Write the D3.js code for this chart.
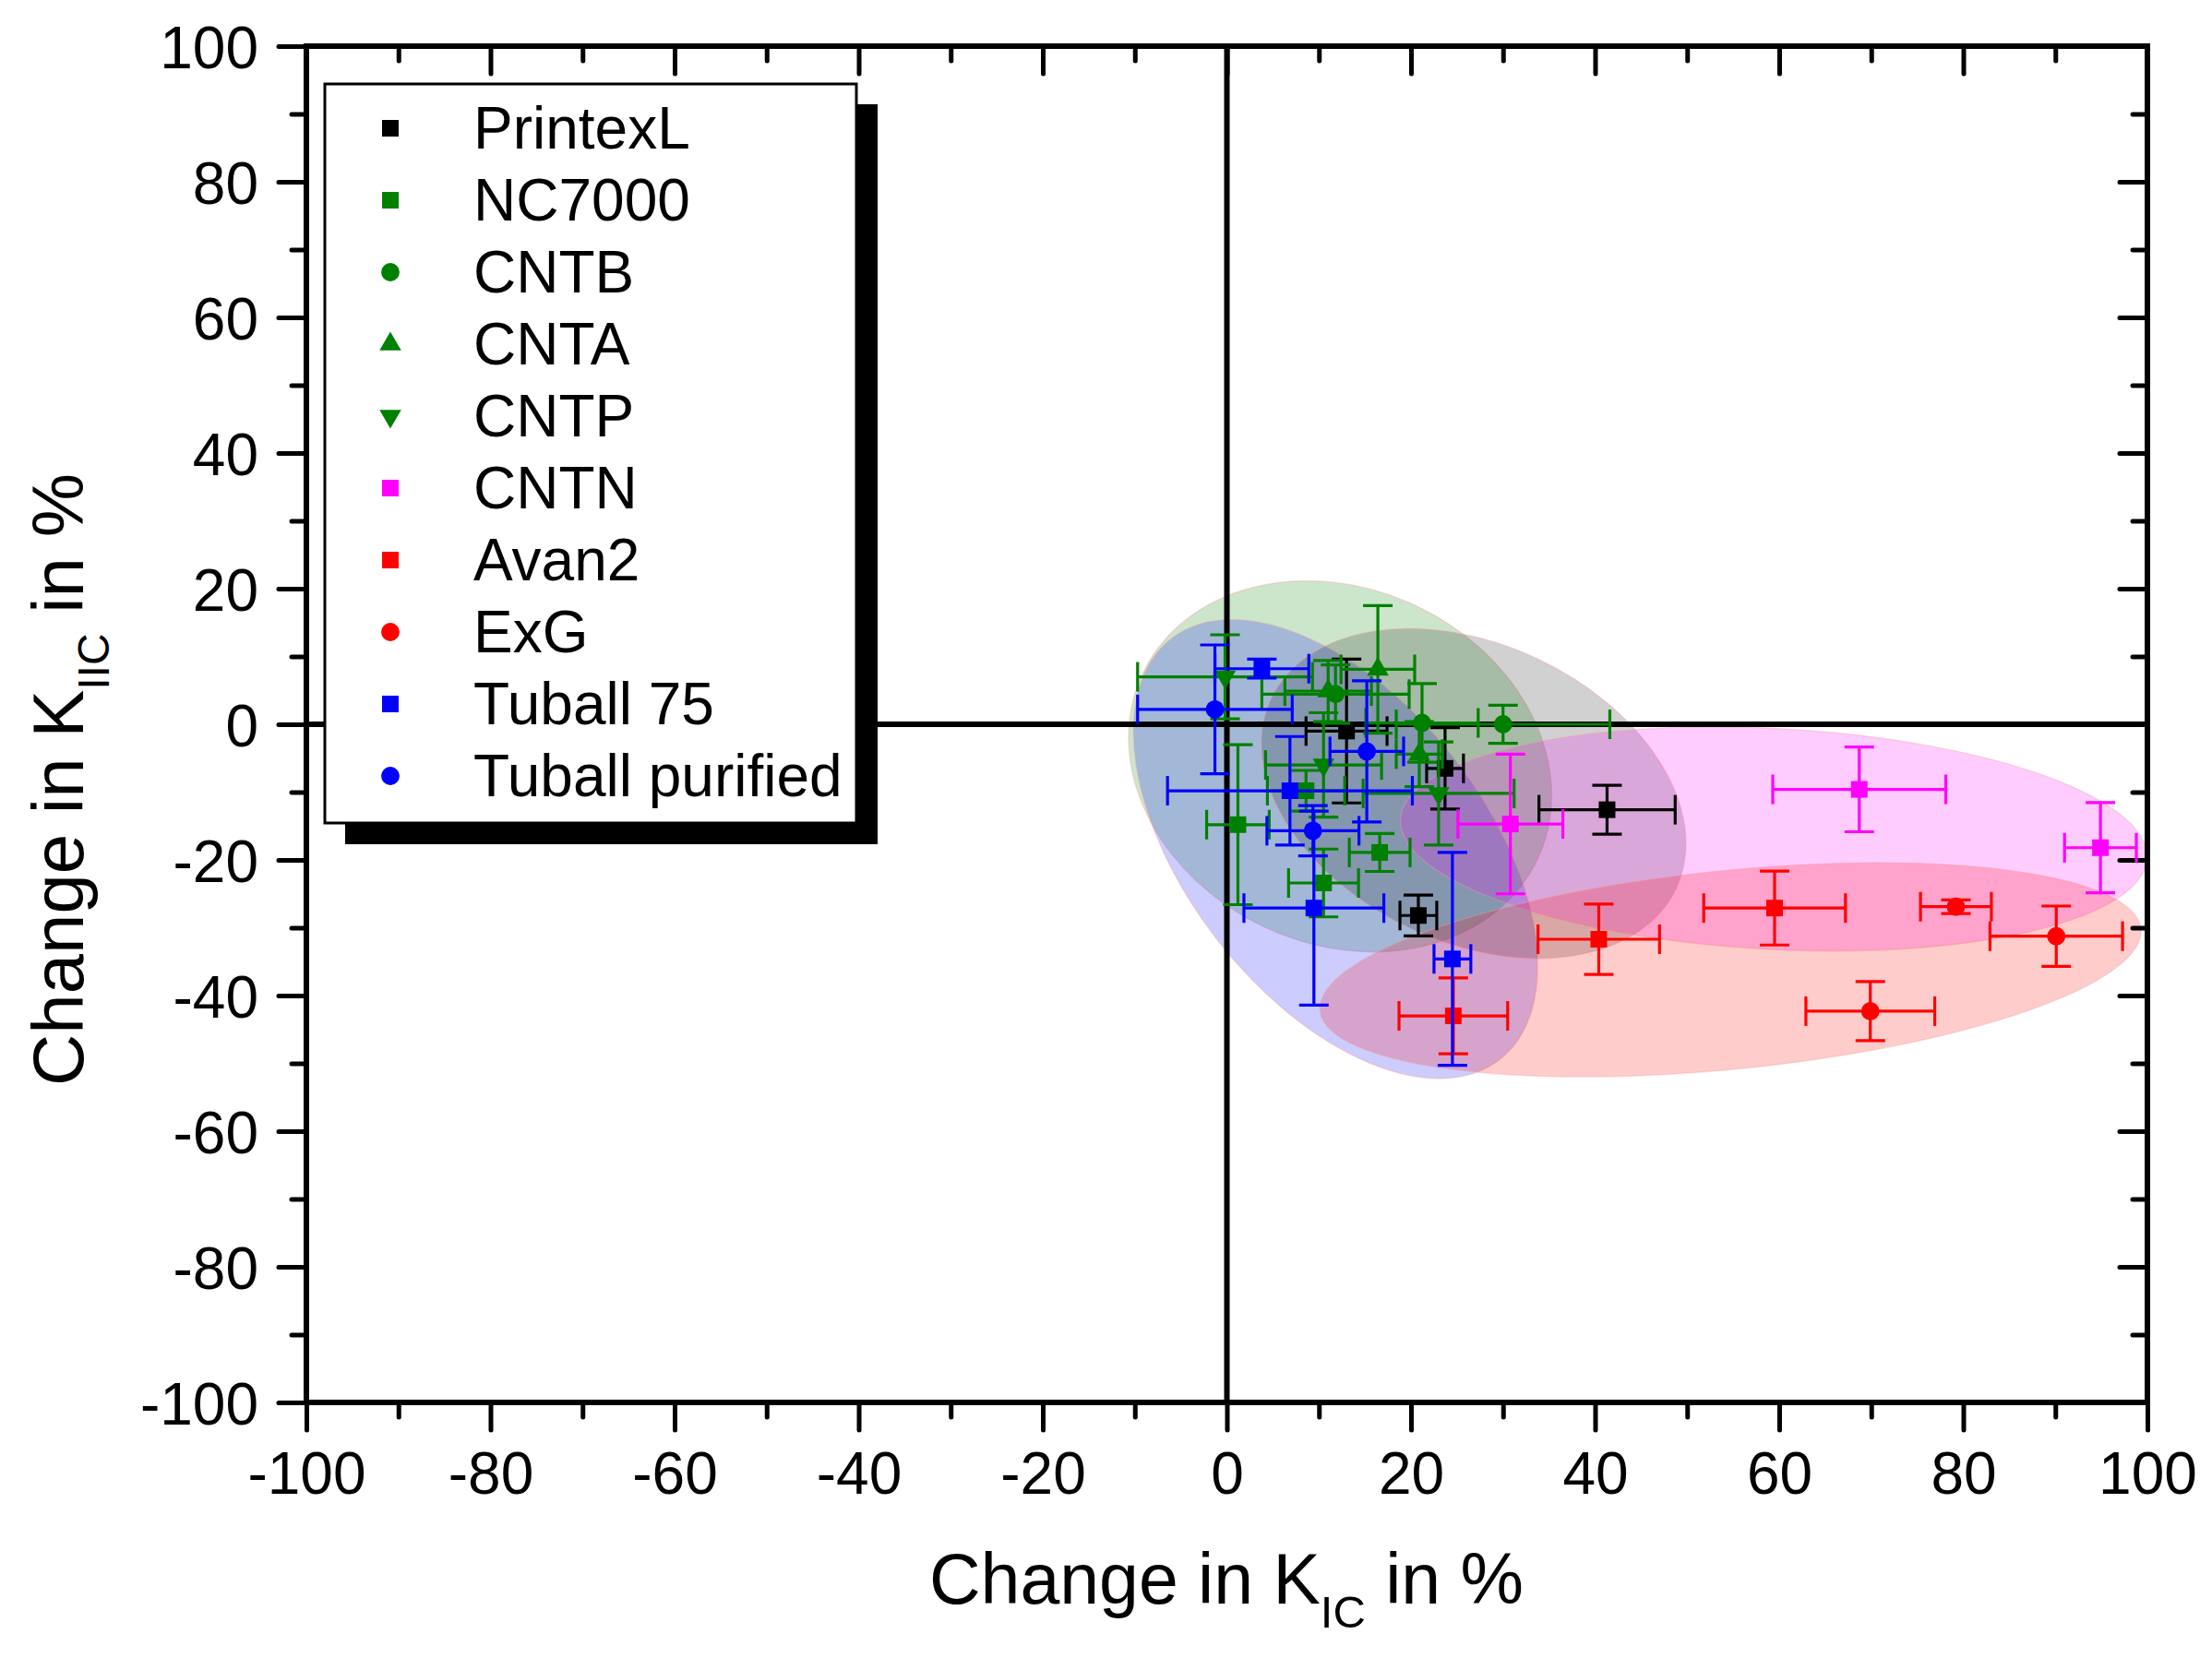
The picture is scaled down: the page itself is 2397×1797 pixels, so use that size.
<!DOCTYPE html>
<html>
<head>
<meta charset="utf-8">
<script src="https://cdn.jsdelivr.net/npm/d3@7"></script>
<style>
  body { margin: 0; background: #fff; }
  text { font-family: "Liberation Sans", Arial, sans-serif; fill: #000; }
</style>
</head>
<body>
<div id="chart"></div>
<script>
// --- data: [x change KIC %, y change KIIC %, x error, y error] ---
const printexL = [[13.0, -1.0, 4.4, 10.6], [23.7, -6.5, 2.0, 6.0], [20.8, -28.2, 2.0, 3.0], [41.3, -12.6, 7.4, 3.6]];
const nc7000 = [[1.2, -14.8, 3.4, 11.8], [8.6, -9.8, 4.2, 3.0], [10.5, -23.4, 3.8, 5.0], [16.6, -18.9, 3.3, 2.8]];
const cntb = [[11.8, 4.45, 8.0, 4.3], [21.2, 0.2, 6.1, 5.8], [30.0, 0.0, 11.6, 2.8]];
const cnta = [[11.0, 4.9, 4.7, 4.5], [16.4, 8.1, 4.0, 9.4], [20.9, -4.4, 2.5, 4.8]];
const cntp = [[-0.2, 7.0, 9.5, 6.2], [10.5, -6.0, 6.3, 7.7], [23.0, -10.2, 8.2, 7.6]];
const cntn = [[30.8, -14.7, 5.7, 10.3], [68.7, -9.6, 9.4, 6.25], [94.9, -18.2, 3.9, 6.65]];
const avan2 = [[24.6, -43.0, 5.9, 5.6], [40.4, -31.7, 6.6, 5.2], [59.5, -27.1, 7.7, 5.45]];
const exg = [[69.9, -42.3, 7.0, 4.35], [79.2, -26.9, 3.85, 1.0], [90.1, -31.25, 7.2, 4.45]];
const tuball75 = [[3.8, 8.2, 5.1, 1.4], [6.85, -9.8, 13.3, 8.0], [9.45, -27.1, 7.6, 14.3], [24.5, -34.6, 2.0, 15.7]];
const tuballPurified = [[-1.3, 2.2, 8.4, 9.5], [15.2, -4.0, 4.0, 10.4], [9.35, -15.7, 5.0, 3.7]];

const seriesNames = ["PrintexL", "NC7000", "CNTB", "CNTA", "CNTP", "CNTN", "Avan2", "ExG", "Tuball 75", "Tuball purified"];
const seriesData = [printexL, nc7000, cntb, cnta, cntp, cntn, avan2, exg, tuball75, tuballPurified];
const seriesColors = ["#000000", "#008000", "#008000", "#008000", "#008000", "#ff00ff", "#ff0000", "#ff0000", "#0000ff", "#0000ff"];
const seriesShapes = ["square", "square", "circle", "up", "down", "square", "square", "circle", "square", "circle"];

// shaded group ellipses: centre (data units), semi-axes (x-axis units), tilt in degrees
const ellipseCx = [12.3, 11.8, 26.8, 59.4, 54.7];
const ellipseCy = [-6.2, -18.4, -10.2, -16.9, -36.2];
const ellipseA = [23.7, 29.0, 24.3, 40.6, 44.8];
const ellipseB = [19.3, 16.2, 16.2, 12.0, 10.8];
const ellipseAngle = [25, 52, 25, 3, -5.7];
const ellipseColors = ["#008000", "#0000ff", "#000000", "#ff00ff", "#ff0000"];

const majorTicks = [-100, -80, -60, -40, -20, 0, 20, 40, 60, 80, 100];
const minorTicks = [-90, -70, -50, -30, -10, 10, 30, 50, 70, 90];

const W = 2397, H = 1797;
const svg = d3.select("#chart").append("svg").attr("width", W).attr("height", H);

const x = d3.scaleLinear().domain([-100, 100]).range([332, 2327]);
const y = d3.scaleLinear().domain([-100, 100]).range([1520, 50]);
const kx = x(1) - x(0);

// === ellipses ===
svg.append("g").selectAll("ellipse")
  .data(ellipseCx)
  .join("ellipse")
  .attr("cx", 0).attr("cy", 0)
  .attr("rx", (d, i) => ellipseA[i] * kx)
  .attr("ry", (d, i) => ellipseB[i] * kx)
  .attr("transform", (d, i) => `translate(${x(d)},${y(ellipseCy[i])}) rotate(${ellipseAngle[i]})`)
  .attr("fill", (d, i) => ellipseColors[i])
  .attr("fill-opacity", (d, i) => i === 2 ? 0.18 : 0.2)
  .attr("stroke", "#f0a0a0")
  .attr("stroke-opacity", 0.35)
  .attr("stroke-width", 1.5);

// === zero lines ===
svg.append("line").attr("x1", x(0)).attr("x2", x(0)).attr("y1", y(100)).attr("y2", y(-100))
  .attr("stroke", "#000").attr("stroke-width", 6);
svg.append("line").attr("x1", x(-100)).attr("x2", x(100)).attr("y1", y(0)).attr("y2", y(0))
  .attr("stroke", "#000").attr("stroke-width", 6);

// === axes ===
function styleAxis(g) {
  g.select(".domain").remove();
  g.selectAll("line").attr("stroke", "#000").attr("stroke-width", 5).attr("stroke-linecap", "round");
  g.selectAll("text").attr("font-size", 64).attr("font-family", "Liberation Sans, Arial, sans-serif");
}
const fmt = d => d;
svg.append("g").attr("transform", `translate(0,${y(-100)})`)
  .call(d3.axisBottom(x).tickValues(majorTicks).tickSize(30).tickPadding(24).tickFormat(fmt)).call(styleAxis);
svg.append("g").attr("transform", `translate(0,${y(-100)})`)
  .call(d3.axisBottom(x).tickValues(minorTicks).tickSize(16).tickFormat("")).call(styleAxis);
svg.append("g").attr("transform", `translate(${x(-100)},0)`)
  .call(d3.axisLeft(y).tickValues(majorTicks).tickSize(30).tickPadding(22).tickFormat(fmt)).call(styleAxis)
  .selectAll("text").attr("dy", "0.36em");
svg.append("g").attr("transform", `translate(${x(-100)},0)`)
  .call(d3.axisLeft(y).tickValues(minorTicks).tickSize(16).tickFormat("")).call(styleAxis);
svg.append("g").attr("transform", `translate(0,${y(100)})`)
  .call(d3.axisTop(x).tickValues(majorTicks).tickSize(-30).tickFormat("")).call(styleAxis);
svg.append("g").attr("transform", `translate(0,${y(100)})`)
  .call(d3.axisTop(x).tickValues(minorTicks).tickSize(-16).tickFormat("")).call(styleAxis);
svg.append("g").attr("transform", `translate(${x(100)},0)`)
  .call(d3.axisRight(y).tickValues(majorTicks).tickSize(-30).tickFormat("")).call(styleAxis);
svg.append("g").attr("transform", `translate(${x(100)},0)`)
  .call(d3.axisRight(y).tickValues(minorTicks).tickSize(-16).tickFormat("")).call(styleAxis);

svg.append("rect")
  .attr("x", x(-100)).attr("y", y(100))
  .attr("width", x(100) - x(-100)).attr("height", y(-100) - y(100))
  .attr("fill", "none").attr("stroke", "#000").attr("stroke-width", 6);

// === axis titles ===
const xt = svg.append("text").attr("x", 1329).attr("y", 1738).attr("text-anchor", "middle").attr("font-size", 77);
xt.append("tspan").text("Change in K");
xt.append("tspan").attr("font-size", 49).attr("dy", 26).text("IC");
xt.append("tspan").attr("dy", -26).text(" in %");

const yt = svg.append("text").attr("transform", "translate(90,845) rotate(-90)").attr("text-anchor", "middle").attr("font-size", 78);
yt.append("tspan").text("Change in K");
yt.append("tspan").attr("font-size", 48).attr("dy", 28).text("IIC");
yt.append("tspan").attr("dy", -28).text(" in %");

// === markers ===
function symbolPath(shape) {
  if (shape === "square") return d3.symbol(d3.symbolSquare, 324)();
  if (shape === "circle") return d3.symbol(d3.symbolCircle, 310)();
  return d3.symbol(d3.symbolTriangle, 240)();
}
const capW = 16;

seriesData.forEach((pts, si) => {
  const col = seriesColors[si];
  const g = svg.append("g");
  const eb = g.append("g").attr("stroke", col).attr("stroke-width", 3.2);
  pts.forEach(p => {
    const [vx, vy, ex, ey] = p;
    const cx = x(vx), cy = y(vy);
    const x1 = x(vx - ex), x2 = x(vx + ex), y1 = y(vy + ey), y2 = y(vy - ey);
    eb.append("line").attr("x1", x1).attr("x2", x2).attr("y1", cy).attr("y2", cy);
    eb.append("line").attr("x1", cx).attr("x2", cx).attr("y1", y1).attr("y2", y2);
    eb.append("line").attr("x1", x1).attr("x2", x1).attr("y1", cy - capW).attr("y2", cy + capW);
    eb.append("line").attr("x1", x2).attr("x2", x2).attr("y1", cy - capW).attr("y2", cy + capW);
    eb.append("line").attr("x1", cx - capW).attr("x2", cx + capW).attr("y1", y1).attr("y2", y1);
    eb.append("line").attr("x1", cx - capW).attr("x2", cx + capW).attr("y1", y2).attr("y2", y2);
  });
  g.selectAll("path.mk").data(pts).join("path").attr("class", "mk")
    .attr("d", symbolPath(seriesShapes[si]))
    .attr("transform", d => `translate(${x(d[0])},${y(d[1])})${seriesShapes[si] === "down" ? " rotate(180)" : ""}`)
    .attr("fill", col);
});

// === legend ===
const lg = svg.append("g");
lg.append("rect").attr("x", 374).attr("y", 113).attr("width", 577).attr("height", 802).attr("fill", "#000");
lg.append("rect").attr("x", 352).attr("y", 91).attr("width", 576).attr("height", 801)
  .attr("fill", "#fff").attr("stroke", "#000").attr("stroke-width", 3);
const rowY = d3.range(seriesNames.length).map(i => 161 + i * 78);
lg.selectAll("path").data(seriesNames).join("path")
  .attr("d", (d, i) => symbolPath(seriesShapes[i]))
  .attr("transform", (d, i) => `translate(423,${rowY[i] - 22})${seriesShapes[i] === "down" ? " rotate(180)" : ""}`)
  .attr("fill", (d, i) => seriesColors[i]);
lg.selectAll("text").data(seriesNames).join("text")
  .attr("x", 513).attr("y", (d, i) => rowY[i])
  .attr("font-size", 64).text(d => d);
</script>
</body>
</html>
